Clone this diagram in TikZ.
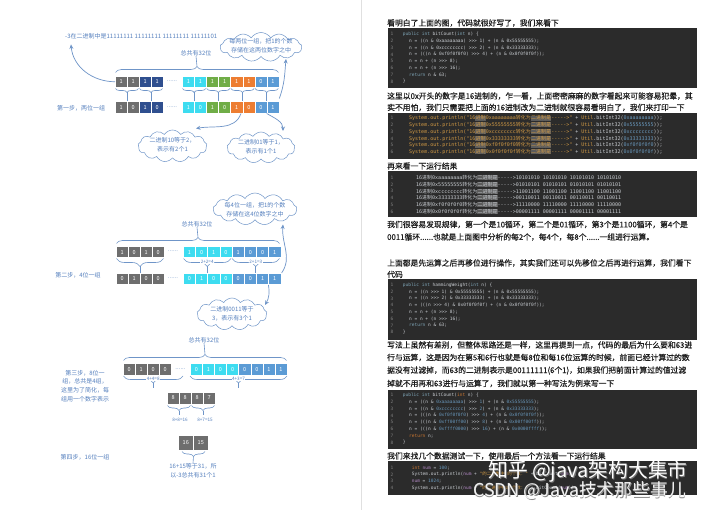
\documentclass[tikz,border=0pt]{standalone}
\usepackage{fontspec}
\setmainfont{Noto Sans CJK SC}
\setmonofont{DejaVu Sans Mono}
\newfontfamily\cjk{Noto Sans CJK SC}
\newfontfamily\bodyfont[FakeBold=0.6]{Noto Sans CJK SC}
\usetikzlibrary{shapes.symbols,decorations.pathreplacing,arrows.meta}
\definecolor{lbl}{HTML}{5580BE}
\definecolor{ln}{HTML}{6F95C8}
\definecolor{cgray}{HTML}{6E6E6E}
\definecolor{cnavy}{HTML}{2F4F8F}
\definecolor{ccyan}{HTML}{3DDCF0}
\definecolor{cgreen}{HTML}{70AD47}
\definecolor{corange}{HTML}{ED7D31}
\definecolor{cblue}{HTML}{5B9BD5}
\definecolor{codebg}{HTML}{2B2B2B}
\definecolor{codefg}{HTML}{C9CDD2}
\definecolor{codenum}{HTML}{7F7F7F}
\definecolor{kw}{HTML}{7FA6B8}
\definecolor{kwo}{HTML}{CC7832}
\definecolor{hexc}{HTML}{6897BB}
\definecolor{orc}{HTML}{D39B45}
\definecolor{purp}{HTML}{B58BC8}
\definecolor{hlc}{HTML}{5C5C5C}
\definecolor{bodytxt}{HTML}{1E1E1E}
\newcommand\hl[1]{{\setlength{\fboxsep}{0.2pt}\colorbox{hlc}{#1}}}
\newcommand\hx[1]{\textcolor{hexc}{#1}}
\newcommand\cellrow[6]{%
  \foreach \cc/\vv [count=\ii from 0] in {#6}{%
    \node[cellbox, fill=\cc, minimum width=#4, minimum height=#5] (#1-\ii) at ({#2+\ii*#4},#3) {\vv};
  }}
\newcommand\codeln[5]{%
  \node[lnum] (#1n) at (390.5,#2) {#3};
  \node[code] (#1) at (#4,#2) {#5};}
\newcommand\codelnb[5]{%
  \node[lnum] (#1n) at (390.5,#2) {#3};
  \node[codeb] (#1) at (#4,#2) {#5};}
\newcommand\btwo[1]{\textcolor{orc}{System.out.println("16\hl{\cjk 进制}0x#1{\cjk 转化为}\hl{\cjk 二进制是}-{}-{}-{}-{}->"} + \textcolor{orc}{Util}.bitInt32(\hx{0x#1}));}
\newcommand\bthree[2]{16{\cjk 进制}0x#1{\cjk 转化为}\hl{\cjk 二进制是}-{}-{}-{}-{}->#2}
\tikzset{
  lbltxt/.style={text=lbl, font=\fontsize{6}{8.7}\selectfont, inner sep=0pt, align=center},
  smalltxt/.style={text=lbl, font=\fontsize{4.6}{5}\selectfont, inner sep=0.4pt, fill=white},
  cellbox/.style={draw=white, line width=0.5pt, text=white, font=\fontsize{5.5}{6}\selectfont, inner sep=0pt, anchor=north west},
  bup/.style={draw=ln, line width=0.6pt, decorate, decoration={brace, amplitude=#1}},
  bdn/.style={draw=ln, line width=0.6pt, decorate, decoration={brace, mirror, amplitude=#1}},
  tick/.style={draw=ln, line width=0.6pt},
  arr/.style={draw=ln, line width=0.7pt, -{Stealth[length=4.5pt,width=4pt]}},
  cloudbox/.style={cloud, draw=ln, fill=white, cloud puffs=13, cloud puff arc=115, inner sep=0pt, line width=0.5pt, aspect=2.4},
  body/.style={text=bodytxt, font=\bodyfont\fontsize{7.8}{9}\selectfont, inner sep=0pt, anchor=west},
  codebox/.style={fill=codebg, draw=none},
  lnum/.style={text=codenum, font=\ttfamily\fontsize{4.5}{5}\selectfont, inner sep=0pt, anchor=west},
  code/.style={text=codefg, font=\ttfamily\fontsize{4.5}{5}\selectfont, inner sep=0pt, anchor=west},
  codeb/.style={text=codefg, font=\ttfamily\fontsize{5}{5.5}\selectfont, inner sep=0pt, anchor=west},
  dotsst/.style={text=ln, font=\fontsize{6}{6}\selectfont, inner sep=0pt},
  wmark/.style={font=\cjk\fontsize{#1}{#1}\selectfont, inner sep=0pt, anchor=west},
}
\begin{document}
\begin{tikzpicture}[x=1pt,y=-1pt]
\useasboundingbox[fill=white] (0,0) rectangle (720,510);
\draw[black!12, line width=0.8pt] (361.5,0) -- (361.5,510);

% ================= diagram 1 =================
\node[lbltxt, anchor=west] (bin) at (65,36.5) {-3在二进制中是11111111 11111111 11111111 11111101};
\node[lbltxt] (tot1) at (196,53) {总共有32位};
\cellrow{ra}{115}{76}{12}{11}{cgray/1,cgray/1,cnavy/1,cnavy/1}
\cellrow{rb}{182}{76}{12.1}{11}{ccyan/1,ccyan/1,cgreen/1,cgreen/1,corange/1,corange/1,cblue/0,cblue/1}
\node[dotsst] (dotsa) at (172,81) {......};
\cellrow{rc}{115}{101.5}{12}{11.5}{cgray/1,cgray/0,cnavy/1,cnavy/0}
\cellrow{rd}{182}{101.5}{12.1}{11.5}{ccyan/1,ccyan/0,cgreen/1,cgreen/0,corange/1,corange/0,cblue/0,cblue/1}
\node[dotsst] (dotsb) at (172,107) {......};
\draw[bup=6pt] (115.5,72.5) -- (278.5,72.5);
\coordinate (t1a) at (197,66.5);
\draw[tick] (t1a) -- (tot1.south);
\foreach \a/\b in {115.5/138.5, 139.5/162.5, 182.5/205.7, 206.7/229.9, 230.9/254.1, 255.1/278.3}{
  \draw[bdn=4pt] (\a,88.5) -- (\b,88.5);
  \draw[tick] ({(\a+\b)/2},92.5) -- ({(\a+\b)/2},101.5);
}
\node[lbltxt] (step1) at (81,108) {第一步，两位一组};
\node[cloudbox, minimum width=82, minimum height=29] (c1) at (261,47) {};
\node[lbltxt] (c1t) at (261,46) {每两位一组，把1的个数\\存储在这两位数字之中};
\node[cloudbox, minimum width=69, minimum height=32] (c2) at (172.5,146) {};
\node[lbltxt] (c2t) at (172.5,145) {二进制10等于2，\\表示有2个1};
\node[cloudbox, minimum width=68, minimum height=31] (c3) at (261,147.5) {};
\node[lbltxt] (c3t) at (261,147) {二进制01等于1，\\表示有1个1};
\coordinate (c1in) at (286,59);
\coordinate (c2in) at (196,128.5);
\coordinate (c3in) at (283,131);
\draw[arr] (ra-0.west) to[out=180,in=-85] ([xshift=6pt,yshift=-5pt]bin.south west);
\draw[arr] ([yshift=3pt]rd-7.north east) to[out=70,in=-95] (c1in);
\draw[arr] ([xshift=-2pt]rd-4.south east) to[out=-110,in=10] (c2in);
\draw[arr] (rd-7.south west) to[out=-30,in=90] (c3in);

% ================= diagram 2 =================
\node[cloudbox, minimum width=84, minimum height=32] (c4) at (255,209) {};
\node[lbltxt] (c4t) at (255,209.5) {每4位一组，把1的个数\\存储在这4位数字之中};
\node[lbltxt] (tot2) at (197,224) {总共有32位};
\cellrow{sa}{116}{246.5}{12}{11}{cgray/1,cgray/0,cgray/1,cgray/0}
\cellrow{sb}{183}{246.5}{12.2}{11}{ccyan/1,ccyan/0,ccyan/1,ccyan/0,cblue/1,cblue/0,cblue/0,cblue/1}
\node[dotsst] (dotsc) at (173,251.5) {......};
\cellrow{sc}{116}{273}{12}{11.5}{cgray/0,cgray/1,cgray/0,cgray/0}
\cellrow{sd}{183}{273}{12.2}{11.5}{ccyan/0,ccyan/1,ccyan/0,ccyan/0,cblue/0,cblue/0,cblue/1,cblue/1}
\node[dotsst] (dotsd) at (173,278.5) {......};
\draw[bup=6pt] (116.5,243.5) -- (279.5,243.5);
\coordinate (t2a) at (198,237.5);
\draw[tick] (t2a) -- (tot2.south);
\foreach \a/\b in {116.5/163.5, 183.5/231, 232/279.5}{
  \draw[bdn=8pt] (\a,258.5) -- (\b,258.5);
  \draw[tick] ({(\a+\b)/2},266.5) -- ({(\a+\b)/2},273);
}
\node[smalltxt] (s24) at (207.2,261.8) {2+2=4};
\node[smalltxt] (s23) at (255.8,261.8) {2+1=3};
\node[lbltxt] (step2) at (78,275.5) {第二步，4位一组};
\node[cloudbox, minimum width=70, minimum height=32] (c5) at (232,314) {};
\node[lbltxt] (c5t) at (232,313.5) {二进制0011等于\\3，表示有3个1};
\coordinate (c4in) at (283,224.5);
\coordinate (c5in) at (265,305);
\draw[arr] ([xshift=0.5pt]sd-7.north east) to[out=55,in=-95] (c4in);
\draw[arr] (sd-7.south west) to[out=-80,in=60] (c5in);

% ================= diagram 3 =================
\node[lbltxt] (tot3) at (204,340) {总共有32位};
\cellrow{ta}{123}{363.5}{12}{11.5}{cgray/0,cgray/1,cgray/0,cgray/0}
\cellrow{tb}{190}{363.5}{12.1}{11.5}{ccyan/0,ccyan/1,ccyan/0,ccyan/0,cblue/0,cblue/0,cblue/1,cblue/1}
\node[dotsst] (dotse) at (180.5,369) {......};
\draw[bup=6pt] (123.5,360.5) -- (286.5,360.5);
\coordinate (t3a) at (205,354.5);
\draw[tick] (t3a) -- (tot3.south);
\foreach \a/\b in {123.5/183, 190/287}{
  \draw[bdn=7pt] (\a,376) -- (\b,376);
  \draw[tick] ({(\a+\b)/2},383) -- ({(\a+\b)/2},387.5);
}
\node[smalltxt] (s48) at (153.2,378.5) {4+4=8};
\node[smalltxt] (s47) at (238.5,378.5) {4+3=7};
\node[lbltxt] (step3) at (85,386) {第三步，8位一\\组，总共是4组，\\这里为了简化，每\\组用一个数字表示};
\cellrow{tc}{167}{392}{12}{11.5}{cgray/8,cgray/8,cgray/8,cgray/7}
\foreach \a/\b in {167.5/190.5, 191.5/214.5}{
  \draw[bdn=5pt] (\a,405.5) -- (\b,405.5);
  \draw[tick] ({(\a+\b)/2},410.5) -- ({(\a+\b)/2},415);
}
\node[smalltxt, fill=none] (s816) at (180,420) {8+8=16};
\node[smalltxt, fill=none] (s815) at (205,420) {8+7=15};
\cellrow{td}{178}{435}{15}{15}{cgray/16,cgray/15}
\draw[bdn=5pt] (182,451.5) -- (205,451.5);
\coordinate (t4a) at (193.5,456.5);
\node[lbltxt] (res) at (193,470.5) {16+15等于31，所\\以-3总共有31个1};
\draw[tick] (t4a) -- (res.north);
\node[lbltxt] (step4) at (85,457.5) {第四步，16位一组};

% ================= right page =================
\node[body] (p1) at (387,23) {看明白了上面的图，代码就很好写了，我们来看下};
\fill[codebox] (388,28) rectangle (697,88);
\codeln{a1}{34.3}{1}{402.7}{\textcolor{kw}{public int} bitCount(\textcolor{kw}{int} n) \{}
\codeln{a2}{41}{2}{409}{n = ((n \& 0xaaaaaaaa) >>> 1) + (n \& 0x55555555);}
\codeln{a3}{47.8}{3}{409}{n = ((n \& 0xcccccccc) >>> 2) + (n \& 0x33333333);}
\codeln{a4}{54.5}{4}{409}{n = (((n \& 0xf0f0f0f0) >>> 4) + (n \& 0x0f0f0f0f));}
\codeln{a5}{61.3}{5}{409}{n = n + (n >>> 8);}
\codeln{a6}{68}{6}{409}{n = n + (n >>> 16);}
\codeln{a7}{74.8}{7}{409}{\textcolor{kw}{return} n \& 63;}
\codeln{a8}{81.5}{8}{402.7}{\}}

\node[body] (p2) at (387,96) {这里以0x开头的数字是16进制的，乍一看，上面密密麻麻的数字看起来可能容易犯晕，其};
\node[body] (p3) at (387,107.5) {实不用怕，我们只需要把上面的16进制改为二进制就很容易看明白了，我们来打印一下};
\fill[codebox] (388,113) rectangle (697,159);
\codelnb{b1}{118.3}{1}{409}{\btwo{aaaaaaaa}}
\codelnb{b2}{125}{2}{409}{\btwo{55555555}}
\codelnb{b3}{131.8}{3}{409}{\btwo{cccccccc}}
\codelnb{b4}{138.5}{4}{409}{\btwo{33333333}}
\codelnb{b5}{145.3}{5}{409}{\btwo{f0f0f0f0}}
\codelnb{b6}{152}{6}{409}{\btwo{0f0f0f0f}}

\node[body] (p4) at (387,166) {再来看一下运行结果};
\fill[codebox] (388,171) rectangle (697,217);
\codelnb{d1}{177.7}{1}{416}{\bthree{aaaaaaaa}{10101010 10101010 10101010 10101010}}
\codelnb{d2}{184.4}{2}{416}{\bthree{55555555}{01010101 01010101 01010101 01010101}}
\codelnb{d3}{191.2}{3}{416}{\bthree{cccccccc}{11001100 11001100 11001100 11001100}}
\codelnb{d4}{197.9}{4}{416}{\bthree{33333333}{00110011 00110011 00110011 00110011}}
\codelnb{d5}{204.7}{5}{416}{\bthree{f0f0f0f0}{11110000 11110000 11110000 11110000}}
\codelnb{d6}{211.4}{6}{416}{\bthree{0f0f0f0f}{00001111 00001111 00001111 00001111}}

\node[body] (p5) at (387,224.5) {我们很容易发现规律，第一个是10循环，第二个是01循环，第3个是1100循环，第4个是};
\node[body] (p6) at (387,237) {0011循环......也就是上面图中分析的每2个，每4个，每8个......一组进行运算。};
\node[body] (p7) at (387,263) {上面都是先运算之后再移位进行操作，其实我们还可以先移位之后再进行运算，我们看下};
\node[body] (p8) at (387,274.5) {代码};
\fill[codebox] (388,279) rectangle (697,340);
\codeln{e1}{285}{1}{402.7}{\textcolor{kw}{public int} hammingWeight(\textcolor{kw}{int} n) \{}
\codeln{e2}{291.7}{2}{409}{n = ((n >>> 1) \& 0x55555555) + (n \& 0x55555555);}
\codeln{e3}{298.4}{3}{409}{n = ((n >>> 2) \& 0x33333333) + (n \& 0x33333333);}
\codeln{e4}{305.2}{4}{409}{n = (((n >>> 4) \& 0x0f0f0f0f) + (n \& 0x0f0f0f0f));}
\codeln{e5}{311.9}{5}{409}{n = n + (n >>> 8);}
\codeln{e6}{318.7}{6}{409}{n = n + (n >>> 16);}
\codeln{e7}{325.4}{7}{409}{\textcolor{kw}{return} n \& 63;}
\codeln{e8}{332.1}{8}{402.7}{\}}

\node[body] (p9) at (387,345) {写法上虽然有差别，但整体思路还是一样，这里再提到一点，代码的最后为什么要和63进};
\node[body] (p10) at (387,357.5) {行与运算，这是因为在第5和6行也就是每8位和每16位运算的时候，前面已经计算过的数};
\node[body] (p11) at (387,370.5) {据没有过滤掉，而63的二进制表示是00111111(6个1)，如果我们把前面计算过的值过滤};
\node[body] (p12) at (387,383.5) {掉就不用再和63进行与运算了，我们就以第一种写法为例来写一下};
\fill[codebox] (388,390) rectangle (697,449);
\codeln{f1}{395.3}{1}{402.7}{\textcolor{kw}{public int} bitCount(\textcolor{kwo}{int} n) \{}
\codeln{f2}{402}{2}{409}{n = ((n \& \hx{0xaaaaaaaa}) >>> \hx{1}) + (n \& \hx{0x55555555});}
\codeln{f3}{408.8}{3}{409}{n = ((n \& \hx{0xcccccccc}) >>> \hx{2}) + (n \& \hx{0x33333333});}
\codeln{f4}{415.5}{4}{409}{n = (((n \& \hx{0xf0f0f0f0}) >>> \hx{4}) + (n \& \hx{0x0f0f0f0f}));}
\codeln{f5}{422.3}{5}{409}{n = (((n \& \hx{0xff00ff00}) >>> \hx{8}) + (n \& \hx{0x00ff00ff}));}
\codeln{f6}{429}{6}{409}{n = (((n \& \hx{0xffff0000}) >>> \hx{16}) + (n \& \hx{0x0000ffff}));}
\codeln{f7}{435.8}{7}{409}{\textcolor{kwo}{return} n;}
\codeln{f8}{442.5}{8}{402.7}{\}}

\node[body] (p13) at (387,456) {我们来找几个数据测试一下，使用最后一个方法看一下运行结果};
\fill[codebox] (388,461) rectangle (697,495);
\codeln{g1}{467.7}{1}{411.7}{\textcolor{kwo}{int} \textcolor{purp}{num} = \hx{100};}
\codeln{g2}{474.5}{2}{411.7}{System.out.println(\textcolor{purp}{num} + \textcolor{orc}{"{\cjk 的二进制中1的个数：}"} + bitCount(\textcolor{purp}{num}));}
\codeln{g3}{481.2}{3}{411.7}{\textcolor{purp}{num} = \hx{1024};}
\codeln{g4}{488}{4}{411.7}{System.out.println(\textcolor{purp}{num} + \textcolor{orc}{"{\cjk 的二进制中1的个数：}"} + bitCount(\textcolor{purp}{num}));}

% watermark
\node[wmark=19.8, text=black!55] (wm1s) at (488.8,472.6) {知乎 @java架构大集市};
\node[wmark=19.8, text=white] (wm1) at (488,471.8) {知乎 @java架构大集市};
\node[wmark=17.8, text=black!45] (wm2s) at (473.7,491.6) {CSDN @Java技术那些事儿};
\node[wmark=17.8, text=white, opacity=0.9] (wm2) at (473,491) {CSDN @Java技术那些事儿};
\end{tikzpicture}
\end{document}
